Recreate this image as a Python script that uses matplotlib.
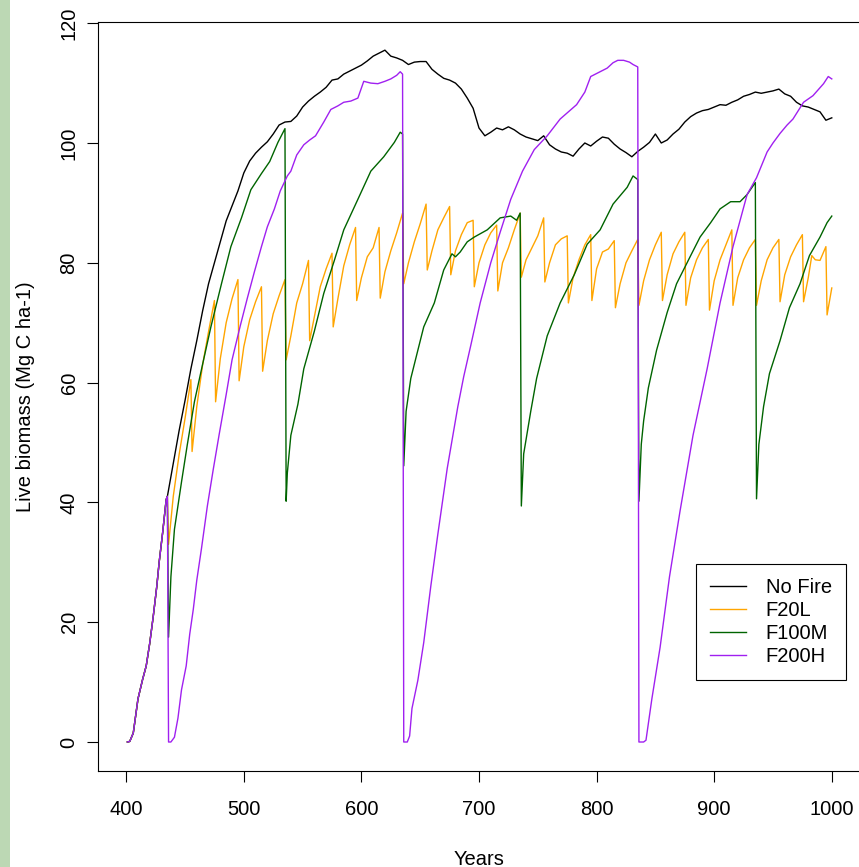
import numpy as np
import matplotlib
matplotlib.use("Agg")
import matplotlib.pyplot as plt
from matplotlib.patches import Rectangle

plt.rcParams['font.family'] = ['Liberation Sans', 'DejaVu Sans']

# ============================================
# Data
# ============================================

# common spin-up before the first fire (all runs identical)
start_years = [401, 403, 406, 410, 414, 417, 420, 423, 426, 428, 431, 434, 435]
start_vals = [0, 0.1, 1.5, 7.2, 10.5, 12.7, 16.5, 21, 26, 30, 35, 40.5, 41.0]

nofire_years = list(range(440, 1001, 5))
nofire_vals = [46.5, 52.0, 57.0, 62.3, 67.0, 72.0, 76.5, 80.0, 83.5, 87.0,
               89.5, 92.0, 95.0, 97.0, 98.3, 99.3, 100.2, 101.5, 103.0, 103.5,
               103.6, 104.5, 106.0, 107.0, 107.8, 108.5, 109.3, 110.5, 110.7, 111.5,
               112.0, 112.5, 113.0, 113.7, 114.5, 115.0, 115.5, 114.5, 114.2, 113.8,
               113.1, 113.5, 113.6, 113.6, 112.3, 111.5, 110.8, 110.5, 110.0, 109.0,
               107.5, 105.8, 102.5, 101.2, 101.8, 102.5, 102.2, 102.7, 102.2, 101.5,
               101.0, 100.7, 100.4, 101.2, 99.7, 99.0, 98.5, 98.3, 97.8, 99.0,
               100.0, 99.5, 100.3, 101.0, 100.8, 99.8, 99.0, 98.4, 97.7, 98.6,
               99.3, 100.1, 101.5, 100.0, 100.5, 101.5, 102.3, 103.5, 104.4, 105.0,
               105.4, 105.6, 106.0, 106.4, 106.3, 106.8, 107.2, 107.8, 108.1, 108.5,
               108.3, 108.5, 108.7, 109.0, 108.2, 107.8, 106.8, 106.2, 106.0, 105.6,
               105.2, 103.8, 104.2]

f20l_years = [436, 440, 445, 450, 455,
              456, 460, 465, 470, 475,
              476, 480, 485, 490, 495,
              496, 500, 505, 510, 515,
              516, 520, 525, 530, 535,
              536, 540, 545, 550, 555,
              556, 560, 565, 570, 575,
              576, 580, 585, 590, 595,
              596, 600, 605, 610, 615,
              616, 620, 625, 630, 635,
              636, 640, 645, 650, 655,
              656, 660, 665, 670, 675,
              676, 680, 685, 690, 695,
              696, 700, 705, 710, 715,
              716, 720, 725, 730, 735,
              736, 740, 745, 750, 755,
              756, 760, 765, 770, 775,
              776, 780, 785, 790, 795,
              796, 800, 805, 810, 815,
              816, 820, 825, 830, 835,
              836, 840, 845, 850, 855,
              856, 860, 865, 870, 875,
              876, 880, 885, 890, 895,
              896, 900, 905, 910, 915,
              916, 920, 925, 930, 935,
              936, 940, 945, 950, 955,
              956, 960, 965, 970, 975,
              976, 980, 983, 986, 990, 995,
              996, 1000]
f20l_vals = [33.0, 41.0, 48.0, 54.0, 60.5,
             48.5, 56.0, 63.0, 68.5, 73.7,
             56.8, 64.0, 70.0, 74.0, 77.2,
             60.3, 66.0, 70.5, 73.5, 76.0,
             61.9, 67.0, 71.5, 74.5, 77.2,
             63.8, 67.8, 73.3, 76.5, 80.4,
             67.0, 71.0, 76.0, 79.0, 81.6,
             69.3, 74.0, 79.5, 83.0, 85.9,
             73.7, 77.5, 81.0, 82.5, 85.9,
             74.1, 78.5, 82.0, 85.0, 88.3,
             76.5, 80.0, 83.5, 86.5, 89.8,
             78.8, 82.0, 85.5, 87.5, 89.4,
             78.0, 82.0, 84.7, 86.7, 87.1,
             76.0, 80.0, 83.0, 85.0, 86.3,
             75.3, 80.0, 82.5, 85.5, 88.3,
             77.6, 80.5, 82.5, 84.5, 87.5,
             76.8, 80.0, 83.0, 84.0, 84.5,
             73.3, 77.5, 80.5, 83.0, 84.7,
             73.7, 79.0, 81.8, 82.3, 83.7,
             72.5, 76.5, 80.0, 82.0, 83.9,
             72.9, 77.0, 80.5, 83.0, 85.1,
             73.7, 78.0, 81.5, 83.5, 85.1,
             72.9, 77.5, 80.5, 82.5, 83.9,
             72.1, 77.0, 80.5, 83.0, 85.5,
             72.9, 77.5, 80.5, 82.5, 83.9,
             72.9, 77.0, 80.5, 82.5, 83.9,
             73.5, 78.0, 81.0, 83.0, 84.7,
             73.5, 77.5, 81.2, 80.5, 80.4, 82.7,
             71.3, 75.8]

f100m_years = [436, 438, 441, 447, 452, 458, 465, 472, 481, 489, 498, 506, 515, 522, 529, 535,
               536, 537, 540, 546, 551, 560, 568, 577, 585, 597, 608, 619, 628, 633, 635,
               636, 638, 642, 648, 653, 662, 670, 677, 680, 684, 690, 696, 707, 718, 727, 732, 735,
               736, 738, 744, 749, 758, 769, 781, 792, 803, 814, 826, 831, 835,
               836, 838, 840, 844, 851, 860, 868, 880, 888, 897, 905, 914, 922, 928, 935,
               936, 938, 942, 947, 956, 964, 973, 981, 990, 996, 1000]
f100m_vals = [17.5, 27.6, 35.5, 43.4, 49.7, 56.8, 63.1, 69.3, 76.5, 82.7, 87.5, 92.2, 94.9, 96.9, 100.1, 102.4,
              40.2, 44.9, 51.2, 56.4, 62.3, 68.6, 74.9, 80.4, 85.5, 90.6, 95.3, 97.7, 100.1, 101.8, 101.5,
              46.1, 55.2, 60.7, 65.4, 69.3, 73.3, 78.8, 81.5, 81.0, 81.8, 83.5, 84.3, 85.5, 87.5, 87.8, 87.1, 88.3,
              39.4, 48.1, 55.2, 60.7, 67.8, 73.3, 78.0, 83.1, 85.5, 89.8, 92.6, 94.5, 93.9,
              40.2, 49.7, 53.6, 59.1, 65.4, 71.7, 76.5, 81.2, 84.3, 86.7, 89.0, 90.2, 90.2, 91.4, 93.4,
              40.6, 49.7, 56.0, 61.5, 67.0, 72.5, 76.5, 81.2, 84.3, 86.7, 87.8]

f200h_years = [436, 438, 441, 444, 447, 451, 454, 457, 460, 464, 469, 474, 479, 485, 490, 497,
               503, 509, 515, 520, 526, 531, 537, 540, 545, 551, 556, 561, 568, 574, 580, 585,
               591, 597, 602, 608, 614, 620, 625, 630, 633, 635,
               636, 639, 641, 643, 648, 653, 659, 665, 673, 682, 687, 693, 701, 710, 718, 727,
               737, 747, 758, 769, 783, 790, 795, 803, 809, 814, 818, 823, 828, 831, 835,
               836, 840, 842, 847, 854, 862, 871, 882, 894, 905, 916, 928, 936, 945, 950,
               956, 962, 967, 976, 984, 993, 997, 1000]
f200h_vals = [0, 0, 0.8, 4.0, 8.7, 12.7, 18.0, 22.1, 27.0, 32.3, 39.4, 45.5, 51.3, 58.0, 63.8, 69.5,
              74.1, 78.5, 82.7, 86.0, 89.0, 92.0, 94.5, 95.3, 98.0, 99.7, 100.5, 101.2, 103.5, 105.6, 106.2, 106.8,
              107.0, 107.5, 110.3, 110.0, 109.9, 110.3, 110.7, 111.3, 111.9, 111.5,
              0, 0, 1.0, 5.6, 10.3, 16.6, 26.0, 34.7, 45.7, 56.0, 61.0, 66.2, 73.3, 80.0, 85.1, 90.6,
              95.3, 98.9, 101.2, 104.0, 106.4, 108.5, 111.1, 111.9, 112.5, 113.4, 113.8, 113.8, 113.5, 113.1, 112.7,
              0, 0, 0.3, 7.2, 15.8, 27.6, 38.6, 51.2, 62.3, 73.3, 82.7, 91.4, 94.2, 98.5, 100.0,
              101.6, 103.0, 104.0, 106.8, 107.9, 109.9, 111.1, 110.7]

series_names = ['No Fire', 'F20L', 'F100M', 'F200H']
series_colors = ['black', 'orange', 'darkgreen', '#A020F0']


# ============================================
# Plot
# ============================================

def full(years, vals):
    return np.array(start_years + years), np.array(start_vals + vals)


fig = plt.figure(figsize=(8.59, 8.67), dpi=100)
ax = fig.add_axes([98 / 859, (867 - 771) / 867, 762 / 859, 749 / 867])

# textured green strip along the left edge of the screenshot
fig.patches.append(Rectangle((0, 0), 10 / 859, 1, transform=fig.transFigure,
                             facecolor='#bcd8b4', edgecolor='none', zorder=0))

all_series = [(nofire_years, nofire_vals), (f20l_years, f20l_vals),
              (f100m_years, f100m_vals), (f200h_years, f200h_vals)]
for (yrs, vals), name, col in zip(all_series, series_names, series_colors):
    x, y = full(yrs, vals)
    ax.plot(x, y, color=col, lw=1.0, label=name)

ax.set_xlim(376, 1024)
ax.set_ylim(-4.84, 120.2)
ax.set_xticks(range(400, 1001, 100))
ax.set_yticks(range(0, 121, 20))

ax.tick_params(axis='both', direction='out', length=8, width=0.8,
               labelsize=14.5, color='black')
ax.tick_params(axis='x', pad=13)
ax.tick_params(axis='y', pad=6, labelrotation=90)
plt.setp(ax.get_yticklabels(), va='center')
for sp in ax.spines.values():
    sp.set_linewidth(0.8)

ax.set_xlabel('Years', fontsize=14.5, labelpad=22)
ax.set_ylabel('Live biomass (Mg C ha-1)', fontsize=14.5, labelpad=18)

leg = ax.legend(loc='lower right', bbox_to_anchor=(0.9816, 0.1215), borderaxespad=0,
                fontsize=14.5, frameon=True, fancybox=False, framealpha=1,
                edgecolor='black', handlelength=1.75, handletextpad=1.0,
                labelspacing=0.2, borderpad=0.7)
leg.get_frame().set_linewidth(0.8)

fig.savefig('out.png', dpi=100)
